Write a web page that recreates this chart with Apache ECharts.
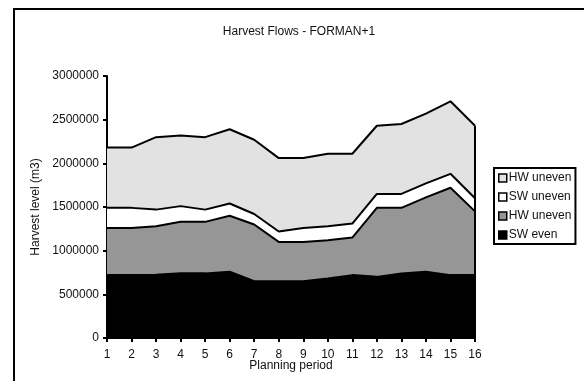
<!DOCTYPE html>
<html>
<head>
<meta charset="utf-8">
<script src="https://cdn.jsdelivr.net/npm/echarts@6/dist/echarts.min.js"></script>
<style>
  html, body { margin: 0; padding: 0; background: #fff; }
  #chart { width: 584px; height: 381px; }
</style>
</head>
<body>
<div id="chart"></div>
<script>
// Planning periods on the x axis
const periods = ['1','2','3','4','5','6','7','8','9','10','11','12','13','14','15','16'];

// Harvest volumes per period (m3), stacked bottom to top
const swEven      = [720000, 720000, 725000, 740000, 740000, 760000, 650000, 650000, 650000, 680000, 720000, 700000, 740000, 760000, 720000, 720000];
const hwUnevenLow = [540000, 540000, 555000, 590000, 590000, 640000, 650000, 450000, 450000, 440000, 430000, 790000, 750000, 850000, 1000000, 730000];
const swUneven    = [230000, 230000, 190000, 180000, 140000, 140000, 120000, 120000, 160000, 160000, 160000, 160000, 160000, 160000, 160000, 150000];
const hwUnevenTop = [690000, 690000, 830000, 810000, 830000, 850000, 850000, 840000, 800000, 830000, 800000, 780000, 800000, 800000, 830000, 830000];

// Y axis ticks
const yTicks = [0, 500000, 1000000, 1500000, 2000000, 2500000, 3000000];

const FONT = "'Liberation Sans', Arial, sans-serif";

// Legend labels (two layers share the same caption)
const legendLabels = {
  hwTop: 'HW uneven',
  swUn: 'SW uneven',
  hwLow: 'HW uneven',
  swEv: 'SW even'
};

const fills = { swEv: '#000000', hwLow: '#969696', swUn: '#ffffff', hwTop: '#e2e2e2' };

function layer(key, data, extra) {
  return Object.assign({
    name: key,
    type: 'line',
    stack: 'total',
    data: data,
    symbol: 'none',
    smooth: false,
    lineStyle: { color: '#000', width: 2 },
    itemStyle: { color: fills[key] },
    areaStyle: { color: fills[key], opacity: 1 },
    emphasis: { disabled: true },
    silent: true
  }, extra || {});
}

const last = periods.length - 1;
const totalLast = swEven[last] + hwUnevenLow[last] + swUneven[last] + hwUnevenTop[last];

const chart = echarts.init(document.getElementById('chart'), null, { renderer: 'canvas' });
chart.setOption({
  animation: false,
  backgroundColor: '#fff',
  textStyle: { fontFamily: FONT },
  title: {
    text: 'Harvest Flows - FORMAN+1',
    left: 299,
    textAlign: 'center',
    top: 26,
    padding: 0,
    textStyle: { fontFamily: FONT, fontSize: 12, fontWeight: 'normal', color: '#111' }
  },
  graphic: [{
    type: 'rect',
    shape: { x: 14, y: 9, width: 640, height: 420 },
    style: { fill: 'none', stroke: '#000', lineWidth: 2 },
    silent: true,
    z: -1
  }],
  legend: {
    orient: 'vertical',
    left: 494,
    top: 168,
    padding: [4, 4, 3, 4],
    itemGap: 7,
    itemWidth: 8,
    itemHeight: 8,
    icon: 'rect',
    borderColor: '#000',
    borderWidth: 2,
    selectedMode: false,
    formatter: function (name) { return legendLabels[name]; },
    textStyle: { fontFamily: FONT, fontSize: 12, color: '#111', padding: [0, 0, 0, -3] },
    data: [
      { name: 'hwTop', itemStyle: { color: fills.hwTop, borderColor: '#000', borderWidth: 1.5 } },
      { name: 'swUn',  itemStyle: { color: fills.swUn,  borderColor: '#000', borderWidth: 1.5 } },
      { name: 'hwLow', itemStyle: { color: fills.hwLow, borderColor: '#000', borderWidth: 1.5 } },
      { name: 'swEv',  itemStyle: { color: fills.swEv,  borderColor: '#000', borderWidth: 1.5 } }
    ]
  },
  grid: { left: 107, right: 109, top: 76, bottom: 43, containLabel: false },
  xAxis: {
    type: 'category',
    data: periods,
    boundaryGap: false,
    name: 'Planning period',
    nameLocation: 'middle',
    nameGap: 22,
    nameMoveOverlap: false,
    nameTextStyle: { fontFamily: FONT, fontSize: 12, color: '#111' },
    axisLine: { lineStyle: { color: '#000', width: 2 } },
    axisTick: { show: true, length: 4, lineStyle: { color: '#000', width: 2 } },
    axisLabel: { fontFamily: FONT, fontSize: 12, color: '#111', margin: 11 },
    splitLine: { show: false }
  },
  yAxis: {
    type: 'value',
    min: yTicks[0],
    max: yTicks[yTicks.length - 1],
    interval: yTicks[1] - yTicks[0],
    name: 'Harvest level (m3)',
    nameLocation: 'middle',
    nameRotate: 90,
    nameGap: 65,
    nameMoveOverlap: false,
    nameTextStyle: { fontFamily: FONT, fontSize: 12, color: '#111' },
    axisLine: { show: true, lineStyle: { color: '#000', width: 2 } },
    axisTick: { show: true, length: 4, lineStyle: { color: '#000', width: 2 } },
    axisLabel: {
      fontFamily: FONT, fontSize: 12, color: '#111', margin: 8,
      formatter: function (v) { return String(v); }
    },
    splitLine: { show: false }
  },
  series: [
    layer('swEv', swEven),
    layer('hwLow', hwUnevenLow),
    layer('swUn', swUneven),
    layer('hwTop', hwUnevenTop, {
      markLine: {
        silent: true,
        symbol: 'none',
        label: { show: false },
        lineStyle: { color: '#000', width: 2, type: 'solid' },
        data: [[
          { coord: [periods[last], 0] },
          { coord: [periods[last], totalLast] }
        ]]
      }
    })
  ]
});
</script>
</body>
</html>
